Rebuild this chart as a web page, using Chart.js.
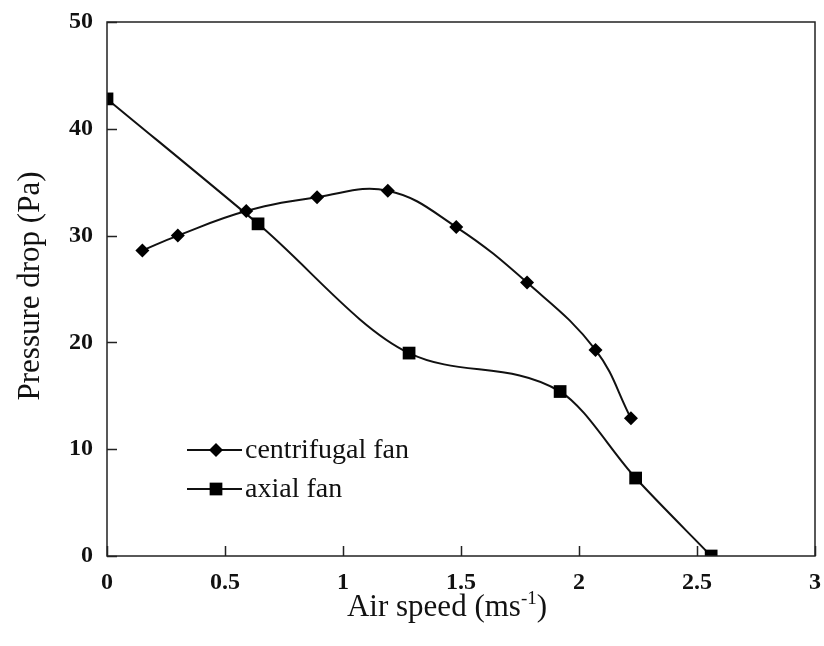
<!DOCTYPE html>
<html>
<head>
<meta charset="utf-8">
<script src="https://cdn.jsdelivr.net/npm/chart.js@4.4.1/dist/chart.umd.min.js"></script>
<style>
  html, body { margin: 0; padding: 0; background: #fff; }
  #wrap { width: 824px; height: 646px; }
</style>
</head>
<body>
<div id="wrap"><canvas id="myChart" width="824" height="646"></canvas></div>
<script>
const SERIF = "'Liberation Serif', 'Times New Roman', serif";

// values
const centrifugalSpeed = [0.15, 0.3, 0.59, 0.89, 1.19, 1.48, 1.78, 2.07, 2.22];
const centrifugalDrop = [28.6, 30.0, 32.3, 33.6, 34.2, 30.8, 25.6, 19.3, 12.9];
const axialSpeed = [0, 0.64, 1.28, 1.92, 2.24, 2.56];
const axialDrop = [42.8, 31.1, 19.0, 15.4, 7.3, 0];
const xTicks = [0, 0.5, 1, 1.5, 2, 2.5, 3];
const yTicks = [0, 10, 20, 30, 40, 50];

const toPoints = (xs, ys) => xs.map((x, i) => ({ x: x, y: ys[i] }));

// frame, inward ticks, titles and legend
const decorations = {
  id: "decorations",
  afterDraw(chart) {
    const ctx = chart.ctx;
    const a = chart.chartArea;
    const xs = chart.scales.x;
    const ys = chart.scales.y;
    ctx.save();
    ctx.strokeStyle = "#222";
    ctx.lineWidth = 1.5;
    ctx.strokeRect(a.left, a.top, a.right - a.left, a.bottom - a.top);

    ctx.beginPath();
    xTicks.forEach((v) => {
      const px = Math.round(xs.getPixelForValue(v)) + 0.5;
      ctx.moveTo(px, a.bottom);
      ctx.lineTo(px, a.bottom - 10);
    });
    yTicks.forEach((v) => {
      const py = Math.round(ys.getPixelForValue(v)) + 0.5;
      ctx.moveTo(a.left, py);
      ctx.lineTo(a.left + 10, py);
    });
    ctx.stroke();

    ctx.fillStyle = "#111";
    // x title with superscript
    ctx.textBaseline = "alphabetic";
    const main = "Air speed (ms";
    const sup = "-1";
    const end = ")";
    ctx.font = "31px " + SERIF;
    const w1 = ctx.measureText(main).width;
    const w3 = ctx.measureText(end).width;
    ctx.font = "19px " + SERIF;
    const w2 = ctx.measureText(sup).width;
    let tx = 447 - (w1 + w2 + w3) / 2;
    const ty = 616;
    ctx.textAlign = "left";
    ctx.font = "31px " + SERIF;
    ctx.fillText(main, tx, ty);
    ctx.font = "19px " + SERIF;
    ctx.fillText(sup, tx + w1, ty - 12);
    ctx.font = "31px " + SERIF;
    ctx.fillText(end, tx + w1 + w2, ty);

    // y title
    ctx.save();
    ctx.translate(39, 286);
    ctx.rotate(-Math.PI / 2);
    ctx.textAlign = "center";
    ctx.font = "31px " + SERIF;
    ctx.fillText("Pressure drop (Pa)", 0, 0);
    ctx.restore();

    // legend
    const rows = [
      { label: chart.data.datasets[0].label, y: 450, style: "rectRot", r: 7 },
      { label: chart.data.datasets[1].label, y: 489, style: "rect", r: 9 }
    ];
    rows.forEach((row) => {
      ctx.strokeStyle = "#111";
      ctx.lineWidth = 2;
      ctx.beginPath();
      ctx.moveTo(187, row.y);
      ctx.lineTo(242, row.y);
      ctx.stroke();
      ctx.fillStyle = "#000";
      Chart.helpers.drawPoint(ctx, { pointStyle: row.style, radius: row.r, borderWidth: 0 }, 216, row.y);
      ctx.fillStyle = "#111";
      ctx.font = "28px " + SERIF;
      ctx.textAlign = "left";
      ctx.textBaseline = "middle";
      ctx.fillText(row.label, 245, row.y + 1);
    });
    ctx.restore();
  }
};

const ctx = document.getElementById("myChart");
const myChart = new Chart(ctx, {
  type: "scatter",
  data: {
    datasets: [
      {
        label: "centrifugal fan",
        data: toPoints(centrifugalSpeed, centrifugalDrop),
        showLine: true,
        tension: 0.4,
        borderColor: "#111",
        borderWidth: 2,
        backgroundColor: "#000",
        pointStyle: "rectRot",
        pointRadius: 7,
        pointBorderWidth: 0
      },
      {
        label: "axial fan",
        data: toPoints(axialSpeed, axialDrop),
        showLine: true,
        cubicInterpolationMode: "monotone",
        borderColor: "#111",
        borderWidth: 2,
        backgroundColor: "#000",
        pointStyle: "rect",
        pointRadius: 9,
        pointBorderWidth: 0
      }
    ]
  },
  options: {
    responsive: false,
    animation: false,
    layout: {
      padding: { top: 22, right: 7, left: 0, bottom: 0 }
    },
    plugins: {
      legend: { display: false },
      tooltip: { enabled: false }
    },
    scales: {
      x: {
        type: "linear",
        min: 0,
        max: 3,
        afterFit: (s) => {
          s.height = 90;
          s.paddingLeft = 0;
          s.paddingRight = 0;
        },
        afterBuildTicks: (s) => { s.ticks = xTicks.map((v) => ({ value: v })); },
        grid: { display: false, drawTicks: false },
        border: { display: false },
        ticks: {
          padding: 12,
          color: "#111",
          font: { family: SERIF, size: 24, weight: "bold" },
          callback: (v) => String(v)
        }
      },
      y: {
        min: 0,
        max: 50,
        afterFit: (s) => {
          s.width = 107;
          s.paddingTop = 0;
          s.paddingBottom = 0;
        },
        afterBuildTicks: (s) => { s.ticks = yTicks.map((v) => ({ value: v })); },
        grid: { display: false, drawTicks: false },
        border: { display: false },
        ticks: {
          padding: 14,
          color: "#111",
          font: { family: SERIF, size: 24, weight: "bold" },
          callback: (v) => String(v)
        }
      }
    }
  },
  plugins: [decorations]
});
</script>
</body>
</html>
